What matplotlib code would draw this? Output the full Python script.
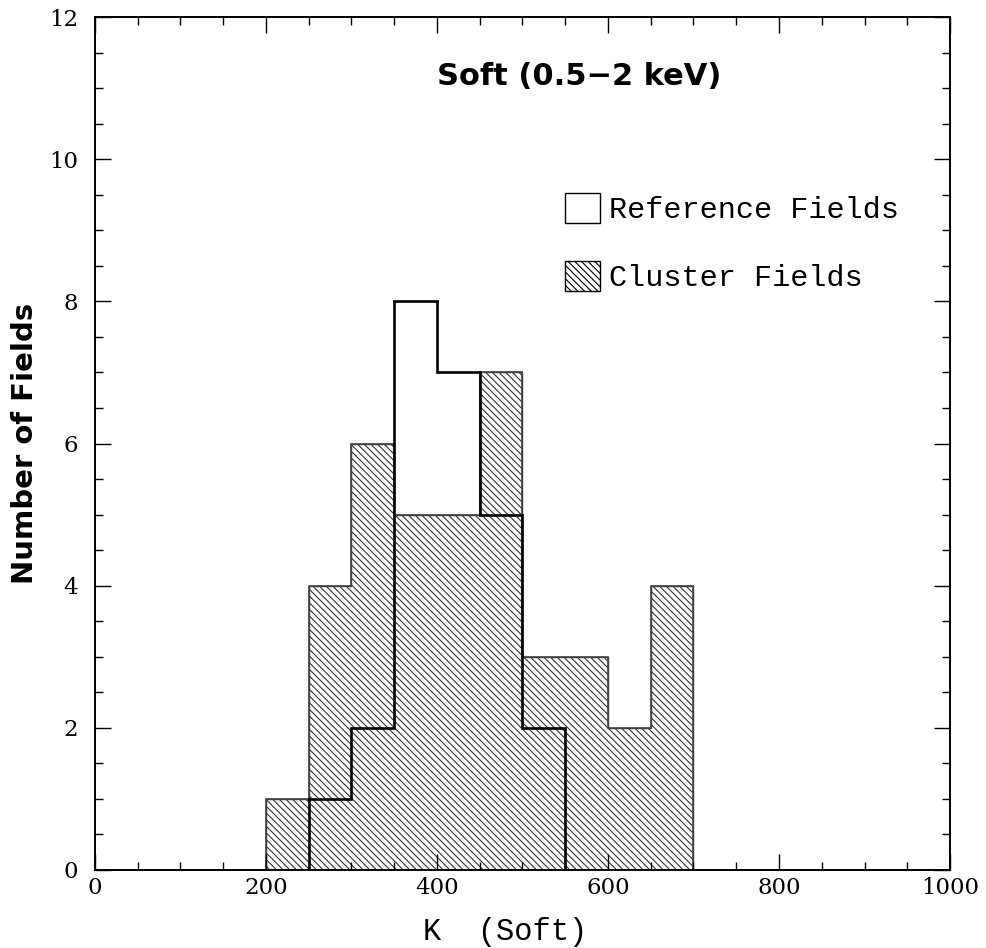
import matplotlib.pyplot as plt
import numpy as np
from matplotlib.patches import Patch
from matplotlib.ticker import MultipleLocator

# bin edges of both histograms (width 50)
bin_edges = np.arange(0, 1050, 50)
# cluster fields (hatched)
cluster_counts = [0, 0, 0, 0, 1, 4, 6, 5, 5, 7, 3, 3, 2, 4, 0, 0, 0, 0, 0, 0]
# reference fields (thick outline)
reference_counts = [0, 0, 0, 0, 0, 1, 2, 8, 7, 5, 2, 0, 0, 0, 0, 0, 0, 0, 0, 0]

plt.rcParams['hatch.linewidth'] = 0.8

fig = plt.figure(figsize=(9.86, 9.48), dpi=100)
ax = fig.add_axes([0.0963, 0.0823, 0.8672, 0.8997])

ax.stairs(cluster_counts, bin_edges, fill=True, facecolor='white',
          edgecolor='#333333', hatch='\\\\\\\\\\', linewidth=1.0)
ax.stairs(cluster_counts, bin_edges, fill=False, color='#444444', linewidth=1.2)
ax.stairs(reference_counts, bin_edges, fill=False, color='black', linewidth=1.9)

ax.set_xlim(0, 1000)
ax.set_ylim(0, 12)
ax.xaxis.set_major_locator(MultipleLocator(200))
ax.xaxis.set_minor_locator(MultipleLocator(50))
ax.yaxis.set_major_locator(MultipleLocator(2))
ax.yaxis.set_minor_locator(MultipleLocator(0.5))
ax.tick_params(which='both', direction='in', top=True, right=True, width=1.0)
ax.tick_params(which='major', length=11.5)
ax.tick_params(which='minor', length=6)
ax.tick_params(axis='x', pad=5)
ax.tick_params(axis='y', pad=12)
for lab in ax.get_xticklabels() + ax.get_yticklabels():
    lab.set_family('DejaVu Serif')
    lab.set_fontsize(16.5)
for sp in ax.spines.values():
    sp.set_linewidth(1.4)

ax.set_xlabel('K  (Soft)', family='Liberation Mono', fontsize=22)
ax.xaxis.set_label_coords(0.48, -0.055)
ax.set_ylabel('Number of Fields', family='DejaVu Sans', fontweight='bold',
              fontsize=21, labelpad=7)

ax.text(0.40, 0.93, 'Soft (0.5\u22122 keV)', transform=ax.transAxes,
        family='DejaVu Sans', fontweight='bold', fontsize=22,
        ha='left', va='center')

handles = [Patch(facecolor='white', edgecolor='black', linewidth=1.0),
           Patch(facecolor='white', edgecolor='black', linewidth=1.0,
                 hatch='\\\\\\\\\\')]
ax.legend(handles, ['Reference Fields', 'Cluster Fields'],
          loc='upper left', bbox_to_anchor=(0.5497, 0.7937), frameon=False,
          prop={'family': 'Liberation Mono', 'size': 21.7},
          handlelength=1.17, handleheight=1.17, handletextpad=0.3,
          labelspacing=1.2, borderpad=0, borderaxespad=0)

fig.savefig('out.png', dpi=100)
